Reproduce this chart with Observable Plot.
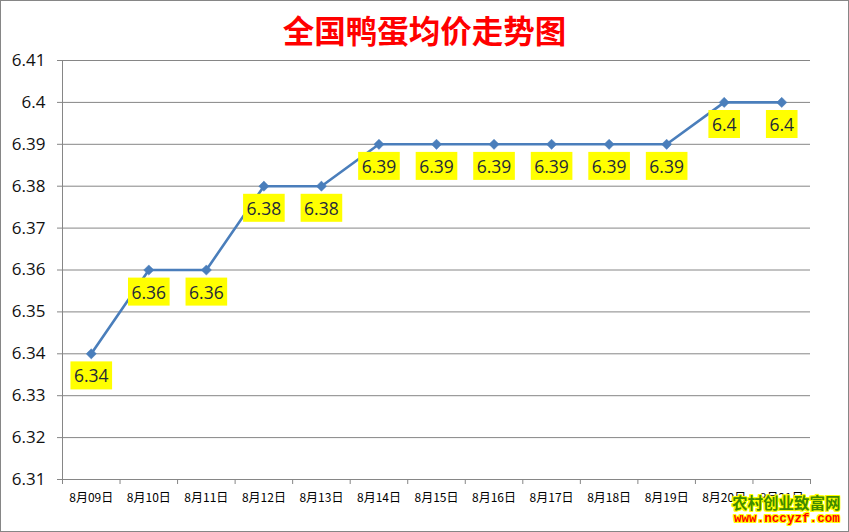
<!DOCTYPE html>
<html>
<head>
<meta charset="utf-8">
<script src="https://cdn.jsdelivr.net/npm/d3@7"></script>
<script src="https://cdn.jsdelivr.net/npm/@observablehq/plot@0.6"></script>
<style>
  body { margin: 0; background: #fff; }
  #wrap { position: relative; width: 849px; height: 532px; box-sizing: border-box; border: 1px solid #868686; background: #fff; overflow: hidden; }
  #title { height: 48px; box-sizing: border-box; padding-top: 13px; text-align: center; font-family: "Noto Sans CJK SC", sans-serif; font-weight: bold; font-size: 31.5px; line-height: 31.5px; color: #ff0000; }
  #wm1 { position: absolute; left: 731px; top: 492px; font-family: "Noto Sans CJK SC", sans-serif; font-weight: bold; font-size: 15.5px; line-height: 18px; color: #3f8a00; letter-spacing: 0px;
    text-shadow: 1px 0 #ffff00, -1px 0 #ffff00, 0 1px #ffff00, 0 -1px #ffff00, 1px 1px #ffff00, -1px -1px #ffff00, 1px -1px #ffff00, -1px 1px #ffff00; }
  #wm2 { position: absolute; left: 733px; top: 511px; font-family: "Liberation Mono", "DejaVu Sans Mono", monospace; font-weight: bold; font-size: 12.6px; line-height: 15px; color: #ff0000;
    text-shadow: 1px 0 #ffff00, -1px 0 #ffff00, 0 1px #ffff00, 0 -1px #ffff00, 1px 1px #ffff00, -1px -1px #ffff00, 1px -1px #ffff00, -1px 1px #ffff00; }
</style>
</head>
<body>
<div id="wrap">
  <div id="title">全国鸭蛋均价走势图</div>
  <div id="chart"></div>
  <div id="wm1">农村创业致富网</div>
  <div id="wm2">www.nccyzf.com</div>
</div>
<script>
const dates = ["8月09日", "8月10日", "8月11日", "8月12日", "8月13日", "8月14日", "8月15日", "8月16日", "8月17日", "8月18日", "8月19日", "8月20日", "8月21日"];
const prices = [6.34, 6.36, 6.36, 6.38, 6.38, 6.39, 6.39, 6.39, 6.39, 6.39, 6.39, 6.4, 6.4];
const yTicks = [6.31, 6.32, 6.33, 6.34, 6.35, 6.36, 6.37, 6.38, 6.39, 6.4, 6.41];

const data = dates.map((d, i) => ({i, date: d, price: prices[i]}));
const idx = dates.map((d, i) => i);
const bounds = d3.range(-0.5, dates.length, 1);

const lineColor = "#4a7ebb";
const gridColor = "#868686";

const chart = Plot.plot({
  width: 847,
  height: 482,
  marginTop: 11,
  marginBottom: 52,
  marginLeft: 61,
  marginRight: 38,
  style: { fontFamily: "'Open Sans', sans-serif", background: "#fff", overflow: "visible" },
  x: { type: "linear", domain: [-0.5, dates.length - 0.5] },
  y: { domain: [6.31, 6.41] },
  marks: [
    Plot.gridY(yTicks, { stroke: gridColor, strokeOpacity: 1, strokeWidth: 1 }),
    Plot.ruleX([-0.5], { stroke: gridColor, strokeWidth: 1 }),
    Plot.axisY(yTicks, {
      tickSize: 5, tickPadding: 12, stroke: gridColor, fontSize: 17, fill: "#111",
      tickFormat: d => String(+d.toFixed(2)), label: null
    }),
    Plot.axisX(bounds, { tickSize: 5, stroke: gridColor, tickFormat: () => "", label: null }),
    Plot.axisX(idx, {
      tickSize: 0, tickPadding: 14, fontSize: 12, fill: "#000",
      fontFamily: "'Noto Sans CJK SC', sans-serif",
      tickFormat: i => dates[i], label: null
    }),
    Plot.line(data, { x: "i", y: "price", stroke: lineColor, strokeWidth: 2.6 }),
    Plot.dot(data, { x: "i", y: "price", symbol: "diamond2", r: 4.6, fill: lineColor, stroke: lineColor, strokeWidth: 0.5 }),
    Plot.text(data, {
      x: "i", y: "price", text: d => String(d.price), dy: 23, fontSize: 17.5, fill: "#1f2a3a"
    })
  ]
});
document.getElementById("chart").appendChild(chart);

// yellow backgrounds behind the data labels, sized from the rendered text
const labelGroups = chart.querySelectorAll('g[aria-label="text"]');
labelGroups.forEach(g => {
  g.querySelectorAll("text").forEach(t => {
    const b = t.getBBox();
    const r = document.createElementNS("http://www.w3.org/2000/svg", "rect");
    const padX = 3.5, h = 28;
    r.setAttribute("x", b.x - padX);
    r.setAttribute("y", b.y + b.height / 2 - h / 2);
    r.setAttribute("width", b.width + 2 * padX);
    r.setAttribute("height", h);
    r.setAttribute("fill", "#ffff00");
    if (t.getAttribute("transform")) r.setAttribute("transform", t.getAttribute("transform"));
    t.parentNode.insertBefore(r, t);
  });
});
</script>
</body>
</html>
